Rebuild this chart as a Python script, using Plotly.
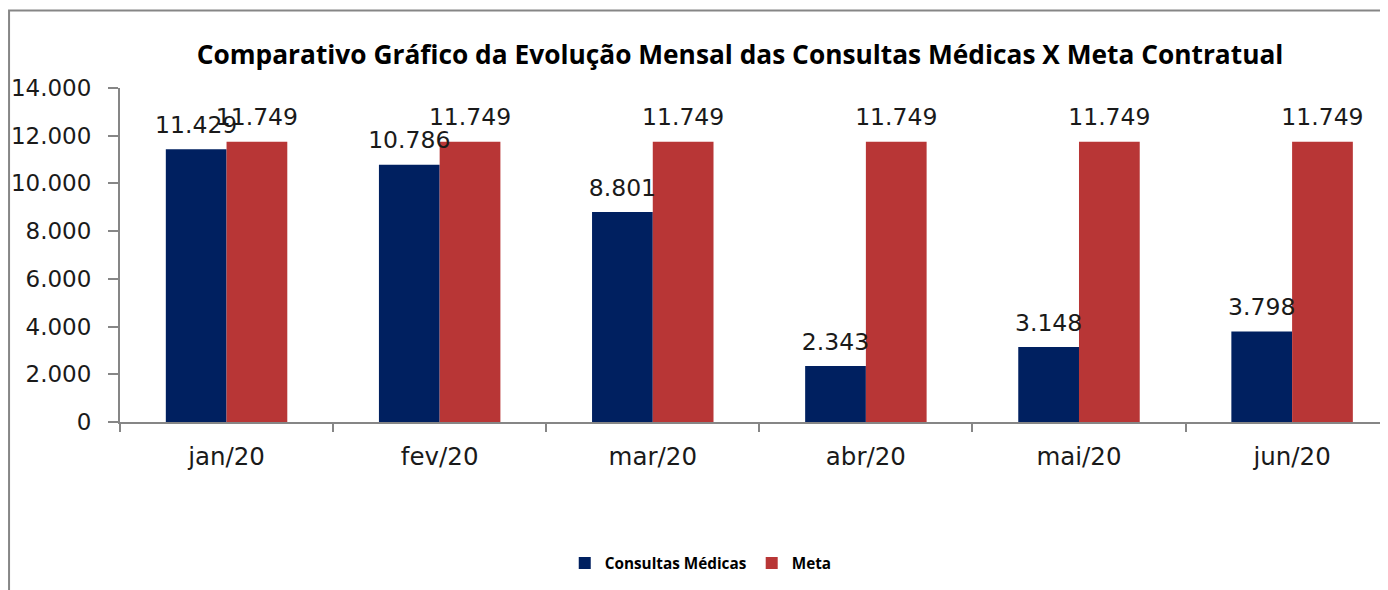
import plotly.graph_objects as go

# data
meses = ["jan/20", "fev/20", "mar/20", "abr/20", "mai/20", "jun/20"]
consultas = [11429, 10786, 8801, 2343, 3148, 3798]
meta = [11749, 11749, 11749, 11749, 11749, 11749]
y_ticks = [0, 2000, 4000, 6000, 8000, 10000, 12000, 14000]

NAVY = "#002060"
RED = "#b83636"
AXIS_GREY = "#868686"
TEXT = "#1a1a1a"

fig = go.Figure()

for nome, valores, cor, grupo in [("Consultas Médicas", consultas, NAVY, "a"),
                                   ("Meta", meta, RED, "b")]:
    fig.add_trace(go.Bar(
        x=meses, y=valores, name=nome,
        marker_color=cor, marker_line_width=0,
        offsetgroup=grupo,
    ))
    # value labels, placed a bit above the bar tops like Excel does
    fig.add_trace(go.Scatter(
        x=meses, y=valores, mode="markers+text",
        text=[f"{v:,}".replace(",", ".") for v in valores],
        textposition="top center",
        textfont=dict(family="DejaVu Sans", size=23.5, color=TEXT),
        marker=dict(size=15, color="rgba(0,0,0,0)"),
        offsetgroup=grupo, showlegend=False, hoverinfo="skip", cliponaxis=False,
    ))

fig.update_layout(
    width=1388, height=590,
    margin=dict(l=112, r=8, t=80, b=176, autoexpand=False),
    separators=",.",
    barmode="group", bargap=0.43, bargroupgap=0,
    scattermode="group", scattergap=0.43,
    plot_bgcolor="white", paper_bgcolor="white",
    title=dict(
        text="<b>Comparativo Gráfico da Evolução Mensal das Consultas Médicas X Meta Contratual</b>",
        x=0.5274, xanchor="center", y=0.920, yanchor="middle",
        font=dict(family="Open Sans", size=26.3, color="black"),
    ),
    showlegend=True,
    legend=dict(
        orientation="h", x=0.458, xanchor="center", y=-0.422, yanchor="middle",
        font=dict(family="Open Sans", size=15.3, color="black", weight="bold"),
        itemwidth=30, bgcolor="rgba(0,0,0,0)",
    ),
    shapes=[dict(
        type="rect", xref="paper", yref="paper",
        x0=-0.0875, x1=1.2, y0=-1.0, y1=1.232,
        line=dict(color=AXIS_GREY, width=2), fillcolor="rgba(0,0,0,0)", layer="below",
    )],
)

fig.update_xaxes(
    range=[-0.5, 5.45], automargin=False,
    showline=True, linecolor=AXIS_GREY, linewidth=2,
    ticks="outside", tickson="boundaries", ticklen=8, tickcolor=AXIS_GREY, tickwidth=2,
    tickfont=dict(family="DejaVu Sans", size=24.5, color=TEXT),
    ticklabelstandoff=12,
    showgrid=False,
)
fig.update_yaxes(
    range=[0, 14000], tickvals=y_ticks, tickformat=",d", automargin=False,
    showline=True, linecolor=AXIS_GREY, linewidth=2,
    ticks="outside", ticklen=10, tickcolor=AXIS_GREY, tickwidth=2,
    tickfont=dict(family="DejaVu Sans", size=23, color=TEXT),
    ticklabelstandoff=12,
    showgrid=False, zeroline=False,
)

fig.write_html("out.html")
